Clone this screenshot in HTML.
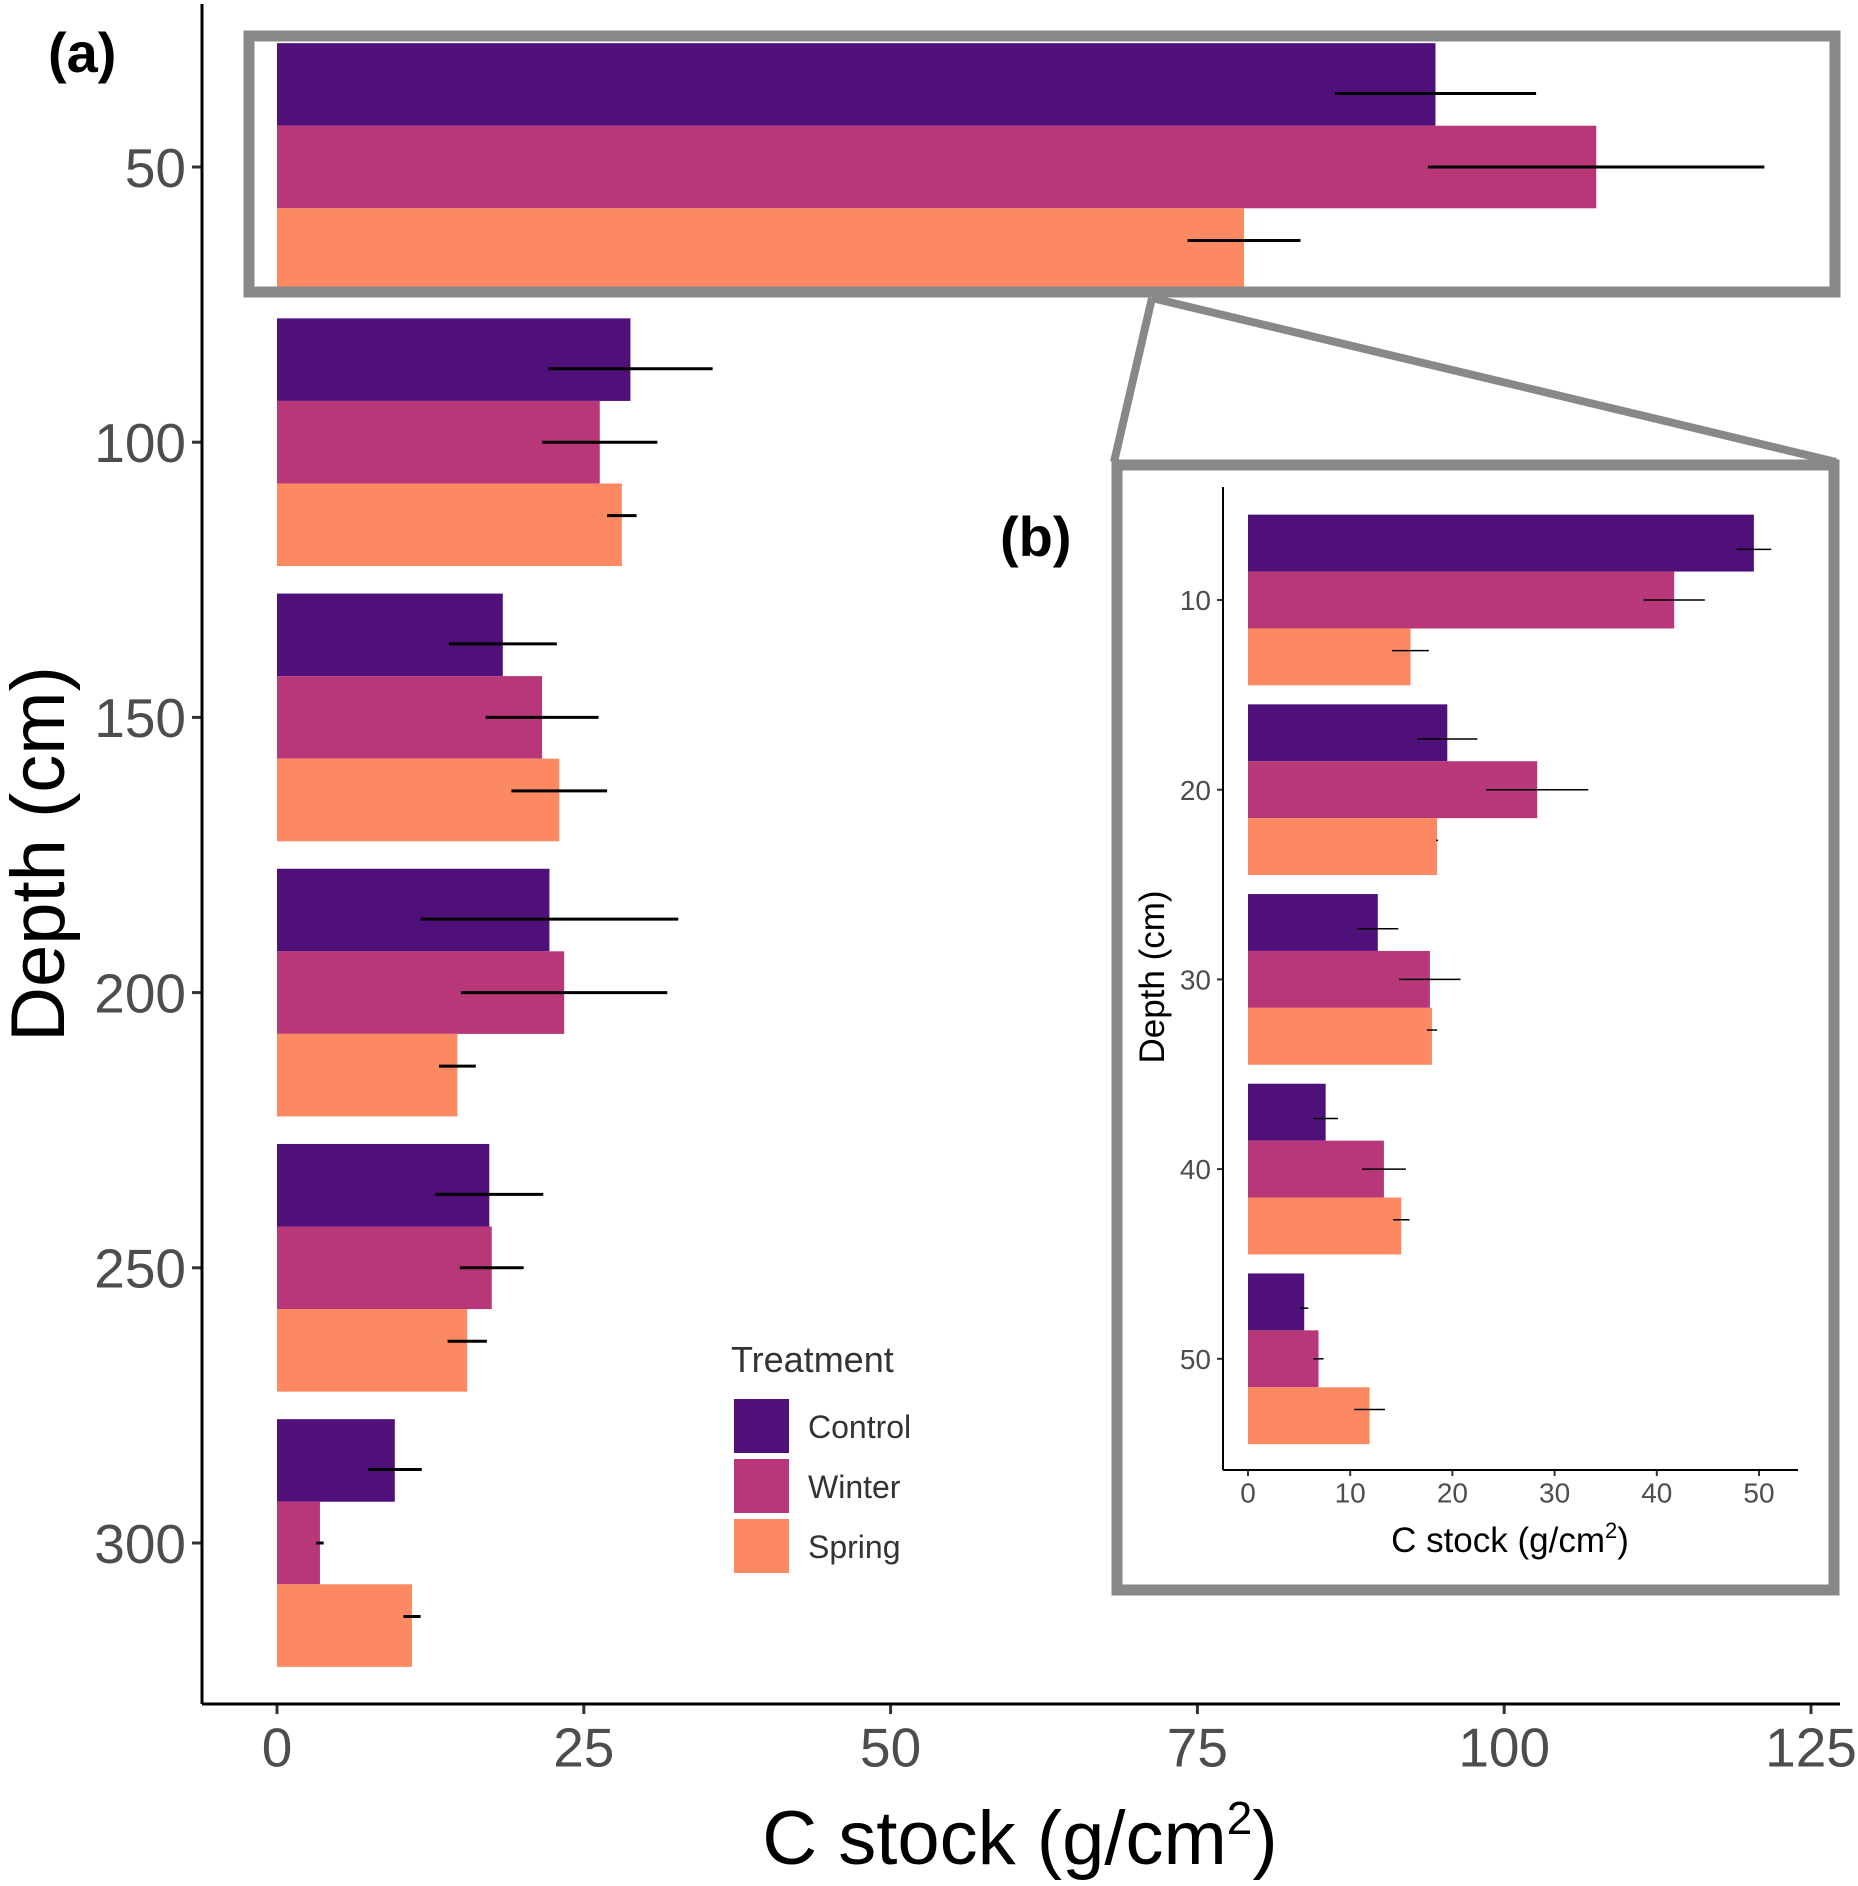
<!DOCTYPE html>
<html><head><meta charset="utf-8"><style>
body{margin:0;background:#fff}
svg{display:block;font-family:"Liberation Sans",sans-serif}
</style></head><body>
<svg id="chart" width="1858" height="1886" viewBox="0 0 1858 1886" xmlns="http://www.w3.org/2000/svg">
<g id="main"></g>
<g id="inset"></g>
</svg>
<script>
const depths = [50,100,150,200,250,300];
const controlVals = [94.4,28.8,18.4,22.2,17.3,9.6];
const controlErr = [8.2,6.7,4.4,10.5,4.4,2.2];
const winterVals = [107.5,26.3,21.6,23.4,17.5,3.5];
const winterErr = [13.7,4.7,4.6,8.4,2.6,0.3];
const springVals = [78.8,28.1,23.0,14.7,15.5,11.0];
const springErr = [4.6,1.2,3.9,1.5,1.6,0.7];
const xTicks = [0,25,50,75,100,125];

const insetDepths = [10,20,30,40,50];
const insetControl = [49.5,19.5,12.7,7.6,5.5];
const insetControlErr = [1.7,2.95,2.0,1.2,0.4];
const insetWinter = [41.7,28.3,17.8,13.3,6.9];
const insetWinterErr = [3.0,5.0,3.0,2.15,0.5];
const insetSpring = [15.9,18.5,18.0,15.0,11.9];
const insetSpringErr = [1.8,0.1,0.5,0.8,1.5];
const insetXTicks = [0,10,20,30,40,50];

const treatments = ["Control","Winter","Spring"];
const colors = ["#501079","#b73779","#fc8961"];
const NS = "http://www.w3.org/2000/svg";
function mk(parent, tag, attrs, text){
  const e = document.createElementNS(NS, tag);
  for (const k in attrs) e.setAttribute(k, attrs[k]);
  if (text !== undefined) e.textContent = text;
  parent.appendChild(e);
  return e;
}

function drawPanel(g, cfg){
  const xs = v => cfg.x0 + (v - 0) * (cfg.x1 - cfg.x0) / cfg.xMax;
  const ys = i => cfg.yFirst + i * cfg.ySpace;
  const bh = cfg.ySpace * 0.3;
  const eOff = cfg.ySpace * 0.267;
  const series = [[cfg.c,cfg.ce],[cfg.w,cfg.we],[cfg.s,cfg.se]];
  cfg.cats.forEach((d, i) => {
    series.forEach((sr, j) => {
      const top = ys(i) - 1.5*bh + j*bh;
      const r = mk(g, "rect", {x: xs(0), y: top, width: xs(sr[0][i]) - xs(0), height: bh, fill: colors[j]});
      
      
    });
    series.forEach((sr, j) => {
      const ey = ys(i) + (j-1)*eOff;
      const e = mk(g, "line", {x1: xs(sr[0][i]-sr[1][i]), x2: xs(sr[0][i]+sr[1][i]), y1: ey, y2: ey, stroke:"#000", "stroke-width": cfg.errW});
      
      
    });
    const t = mk(g, "text", {x: cfg.axX - cfg.tickLen - 6, y: ys(i) + cfg.tickFont*0.36, "text-anchor":"end", "font-size": cfg.tickFont, fill:"#4d4d4d"}, d);
    
    
    mk(g, "line", {x1: cfg.axX - cfg.tickLen, x2: cfg.axX, y1: ys(i), y2: ys(i), stroke:"#333", "stroke-width": cfg.axW});
  });
  cfg.ticks.forEach(v => {
    mk(g, "line", {x1: xs(v), x2: xs(v), y1: cfg.axY, y2: cfg.axY + cfg.tickLen, stroke:"#333", "stroke-width": cfg.axW});
    const t = mk(g, "text", {x: xs(v), y: cfg.axY + cfg.tickLen + cfg.tickFont*0.95, "text-anchor":"middle", "font-size": cfg.tickFont, fill:"#4d4d4d"}, v);
    
    
  });
  const ya = mk(g, "line", {x1: cfg.axX, x2: cfg.axX, y1: cfg.axTop, y2: cfg.axY, stroke:"#000", "stroke-width": cfg.axW});
  
  
  const xa = mk(g, "line", {x1: cfg.axX, x2: cfg.axRight, y1: cfg.axY, y2: cfg.axY, stroke:"#000", "stroke-width": cfg.axW});
  
  
}

const main = document.getElementById("main");
drawPanel(main, {prefix:"", cats:depths, c:controlVals, ce:controlErr, w:winterVals, we:winterErr, s:springVals, se:springErr,
  x0:277, x1:1811, xMax:125, yFirst:167, ySpace:275.2, axX:202, axY:1704, axTop:4, axRight:1840, axW:3, tickLen:10, tickFont:55, errW:3, ticks:xTicks});

let t = mk(main, "text", {x:1020, y:1864, "text-anchor":"middle", "font-size":76, fill:"#000"});


t.innerHTML = 'C stock (g/cm<tspan dy="-30" font-size="46">2</tspan><tspan dy="30">)</tspan>';
t = mk(main, "text", {x:0, y:0, transform:"translate(64,854) rotate(-90)", "text-anchor":"middle", "font-size":76, fill:"#000"}, "Depth (cm)");


t = mk(main, "text", {x:48, y:72, "font-size":56, "font-weight":"bold", fill:"#000"}, "(a)");



t = mk(main, "text", {x:731, y:1372, "font-size":36, fill:"#333"}, "Treatment");


treatments.forEach((n, j) => {
  const r = mk(main, "rect", {x:734, y:1399 + j*60, width:55, height:54, fill:colors[j]});
  
  
  const l = mk(main, "text", {x:808, y:1438 + j*60, "font-size":32, fill:"#333"}, n);
  
  
});

const hb = mk(main, "rect", {x:249, y:36, width:1586, height:256, fill:"none", stroke:"#888", "stroke-width":11});


mk(main, "line", {x1:1152, y1:298, x2:1114, y2:462, stroke:"#888", "stroke-width":8});
mk(main, "line", {x1:1152, y1:298, x2:1836, y2:462, stroke:"#888", "stroke-width":8});

const inset = document.getElementById("inset");
const ib = mk(inset, "rect", {x:1117, y:465, width:717, height:1125, fill:"#fff", stroke:"#888", "stroke-width":11});


drawPanel(inset, {prefix:"inset-", cats:insetDepths, c:insetControl, ce:insetControlErr, w:insetWinter, we:insetWinterErr, s:insetSpring, se:insetSpringErr,
  x0:1248, x1:1759, xMax:50, yFirst:600, ySpace:189.7, axX:1223, axY:1470, axTop:487, axRight:1798, axW:2, tickLen:6, tickFont:28, errW:1.5, ticks:insetXTicks});
t = mk(inset, "text", {x:1510, y:1552, "text-anchor":"middle", "font-size":35, fill:"#000"});


t.innerHTML = 'C stock (g/cm<tspan dy="-14" font-size="22">2</tspan><tspan dy="14">)</tspan>';
t = mk(inset, "text", {x:0, y:0, transform:"translate(1164,977) rotate(-90)", "text-anchor":"middle", "font-size":35, fill:"#000"}, "Depth (cm)");


t = mk(inset, "text", {x:1000, y:556, "font-size":56, "font-weight":"bold", fill:"#000"}, "(b)");


</script>
</body></html>
